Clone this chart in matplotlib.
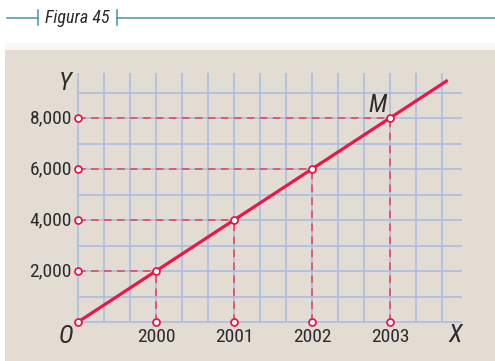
import matplotlib
matplotlib.use("Agg")
import matplotlib.pyplot as plt
from matplotlib import font_manager
from matplotlib.patches import Rectangle
import numpy as np

# ---- data ----
years = [2000, 2001, 2002, 2003]
values = [2000, 4000, 6000, 8000]
ytick_labels = ["2,000", "4,000", "6,000", "8,000"]
year_labels = ["2000", "2001", "2002", "2003"]
origin = (1999, 0)
line_x = [1999, 2003.74]
line_y = [0, 9480]
title = "Figura 45"

# ---- fonts ----
avail = {f.name for f in font_manager.fontManager.ttflist}
narrow = None
for cand in ["Liberation Sans Narrow", "Roboto Condensed", "Open Sans Condensed", "Liberation Sans"]:
    if cand in avail:
        narrow = cand
        break
FONT = [narrow, "DejaVu Sans"]
WEIGHT = "normal"

W, H = 495, 361
fig = plt.figure(figsize=(W / 100, H / 100), dpi=100)
ax = fig.add_axes([0, 0, 1, 1])
ax.set_axis_off()

# pixel mapping (layout)
X0PX, XPX_PER_YEAR = 78, 78.0
Y0PX, YPX_PER_UNIT = 322, 0.0255

def px2x(px):
    return origin[0] + (px - X0PX) / XPX_PER_YEAR

def px2y(py):
    return (Y0PX - py) / YPX_PER_UNIT

ax.set_xlim(px2x(0), px2x(W))
ax.set_ylim(px2y(H), px2y(0))

RED = "#e8174c"
DASH = "#e63d63"
GRID = "#a9bde2"
TEAL = "#4296a5"
PANEL = "#e2dcd3"
TXT = "#2e2a2b"

# panel
ax.add_patch(Rectangle((px2x(5), px2y(H)), px2x(W) - px2x(5), px2y(50) - px2y(H),
                       facecolor=PANEL, edgecolor="none", zorder=0))
ax.add_patch(Rectangle((px2x(5), px2y(50)), px2x(W) - px2x(5), px2y(43) - px2y(50),
                       facecolor="#f8f7f6", edgecolor="none", zorder=0))

# grid
xmax_grid = px2x(462)
ymax_grid = px2y(73)
vx = origin[0] + np.arange(0, 15) / 3.0
ax.vlines(vx, 0, ymax_grid, colors=GRID, linewidth=1.2, zorder=1)
hy = np.arange(0, 10) * 1000
ax.hlines(hy, origin[0], xmax_grid, colors=GRID, linewidth=1.2, zorder=1)

# dashed guides
for xv, yv in zip(years, values):
    ax.plot([origin[0], xv], [yv, yv], color=DASH, lw=1.1, dashes=(5, 3.5), zorder=2)
    ax.plot([xv, xv], [0, yv], color=DASH, lw=1.1, dashes=(5, 3.5), zorder=2)

# main line
ax.plot(line_x, line_y, color=RED, lw=2.3, solid_capstyle="butt", zorder=3)

# markers
mk = dict(marker="o", ms=5, mfc="white", mec=RED, mew=1.3, ls="none", zorder=4)
ax.plot(years, values, **mk)
ax.plot([origin[0]] * len(values), values, **mk)
ax.plot(years, [0] * len(years), **mk)
ax.plot([origin[0]], [origin[1]], **mk)

# tick labels
for yv, lab in zip(values, ytick_labels):
    ax.text(px2x(72), yv, lab, ha="right", va="center", fontsize=14, weight=WEIGHT,
            family=FONT, color=TXT, zorder=5)
for xv, lab in zip(years, year_labels):
    ax.text(xv, px2y(337.5), lab, ha="center", va="center", fontsize=14, weight=WEIGHT,
            family=FONT, color=TXT, zorder=5)

# axis letters
big = dict(fontsize=18, style="italic", weight=WEIGHT, family=FONT, color=TXT,
           ha="center", va="center", zorder=5)
ax.text(px2x(65.5), px2y(83.5), "Y", **big)
ax.text(px2x(65.5), px2y(336), "O", **big)
ax.text(px2x(455.5), px2y(335.5), "X", **big)
ax.text(px2x(377.5), px2y(104.5), "M", **big)

# title
ty = px2y(17.5)
ax.plot([px2x(7), px2x(38)], [ty, ty], color=TEAL, lw=1.1)
ax.plot([px2x(38), px2x(38)], [px2y(10), px2y(25)], color=TEAL, lw=1.1)
ax.plot([px2x(117), px2x(117)], [px2y(10), px2y(25)], color=TEAL, lw=1.1)
ax.plot([px2x(117), px2x(W)], [ty, ty], color=TEAL, lw=1.1)
ax.text(px2x(77.5), px2y(17.5), title, ha="center", va="center", fontsize=13,
        style="italic", weight=WEIGHT, family=FONT, color=TXT)

fig.savefig("out.png", dpi=100)
